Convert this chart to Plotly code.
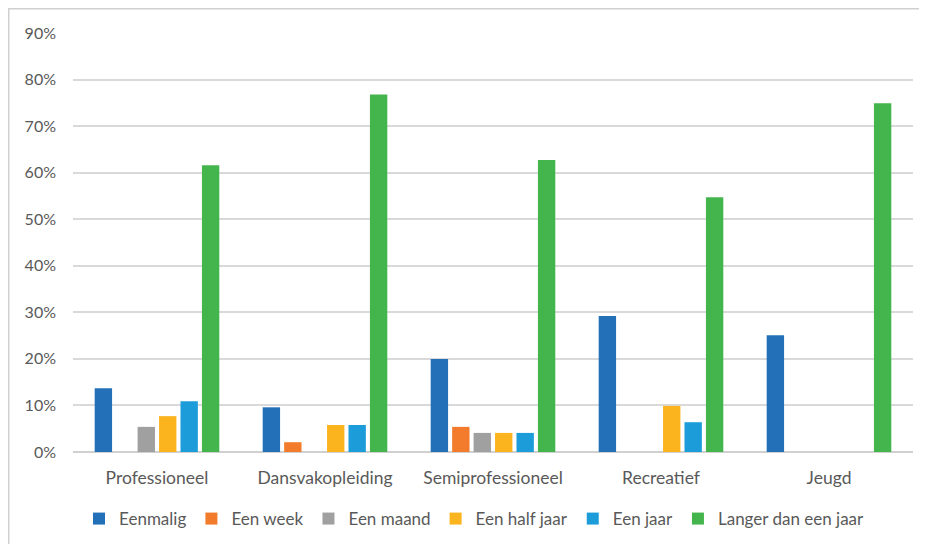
import plotly.graph_objects as go

categories = ["Professioneel", "Dansvakopleiding", "Semiprofessioneel", "Recreatief", "Jeugd"]
series_names = ["Eenmalig", "Een week", "Een maand", "Een half jaar", "Een jaar", "Langer dan een jaar"]

eenmalig = [0.137, 0.096, 0.200, 0.292, 0.251]
een_week = [0.0, 0.021, 0.054, 0.0, 0.0]
een_maand = [0.054, 0.0, 0.041, 0.0, 0.0]
een_half_jaar = [0.077, 0.058, 0.041, 0.099, 0.0]
een_jaar = [0.109, 0.058, 0.041, 0.064, 0.0]
langer = [0.616, 0.768, 0.627, 0.547, 0.749]

values = [eenmalig, een_week, een_maand, een_half_jaar, een_jaar, langer]
colors = ["#2470B8", "#F27C2C", "#A0A0A0", "#FBB41E", "#1C9DDA", "#44B54C"]

tick_vals = [0, 0.1, 0.2, 0.3, 0.4, 0.5, 0.6, 0.7, 0.8, 0.9]
tick_text = ["0%", "10%", "20%", "30%", "40%", "50%", "60%", "70%", "80%", "90%"]

fig = go.Figure()
for name, vals, col in zip(series_names, values, colors):
    fig.add_trace(go.Bar(name=name, x=categories, y=vals, marker=dict(color=col, line=dict(width=0))))

font = "Lato, Open Sans, sans-serif"
fig.update_layout(
    width=919, height=536,
    margin=dict(l=65, r=14, t=25, b=92, autoexpand=False),
    paper_bgcolor="white", plot_bgcolor="white",
    barmode="group", bargap=0.234, bargroupgap=0.19,
    font=dict(family=font, size=16, color="#595959"),
    showlegend=True,
    legend=dict(orientation="h", x=0.478, xanchor="center", yref="container", y=0.0466, yanchor="middle",
                font=dict(size=17, color="#595959"), itemwidth=30, traceorder="normal"),
    xaxis=dict(showgrid=False, showline=False, ticks="", ticklabelstandoff=13, automargin=False,
               tickfont=dict(size=17.5, color="#595959")),
    yaxis=dict(range=[0, 0.9], tickvals=tick_vals, ticktext=tick_text, showgrid=True, automargin=False,
               gridcolor="#D9D9D9", gridwidth=1.5, zeroline=True, zerolinecolor="#D0D0D0",
               zerolinewidth=1.5, showline=False, ticks="", ticklabelstandoff=16,
               tickfont=dict(size=16, color="#595959")),
    shapes=[dict(type="rect", xref="paper", yref="paper", x0=-0.0765, x1=1.05, y0=-0.3, y1=1.0579,
                 line=dict(color="#D0D0D0", width=1.5), fillcolor="rgba(0,0,0,0)", layer="below")],
)

fig.write_html("out.html")
